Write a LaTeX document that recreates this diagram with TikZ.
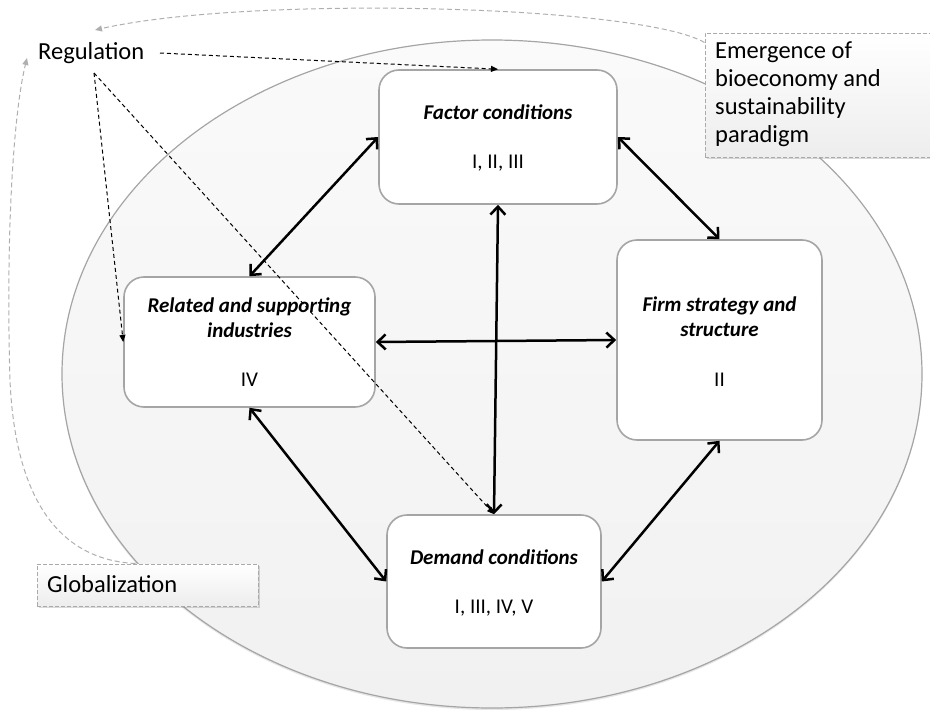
\documentclass[tikz,border=0pt]{standalone}
\usepackage{fontspec}
\setmainfont{Carlito}
\usetikzlibrary{arrows.meta,shadows,shapes.geometric}

\definecolor{rimgray}{RGB}{165,165,165}
\definecolor{fieldtop}{RGB}{250,250,250}
\definecolor{fieldbot}{RGB}{241,241,241}
\definecolor{notegray}{RGB}{170,170,170}
\definecolor{linkgray}{RGB}{175,175,175}

\tikzset{
  field/.style={ellipse, draw=rimgray, line width=1.2pt, top color=fieldtop, bottom color=fieldbot,
    inner sep=0pt, drop shadow={shadow xshift=0pt, shadow yshift=-2pt, opacity=0.2, fill=gray}},
  stagebox/.style={rectangle, rounded corners=20pt, draw=rimgray, line width=1.6pt, fill=white, inner sep=0pt},
  notebox/.style={rectangle, draw=notegray, line width=1pt, dash pattern=on 4pt off 2pt,
    top color=white, bottom color=black!7, inner sep=0pt,
    drop shadow={shadow xshift=1.5pt, shadow yshift=-2pt, opacity=0.3, fill=gray}},
  title/.style={font=\fontsize{21}{25}\selectfont\bfseries\itshape, align=center, inner sep=0pt},
  roman/.style={font=\fontsize{21}{25}\selectfont, inner sep=0pt},
  outer/.style={font=\fontsize{24.5}{28}\selectfont, inner sep=0pt, align=left},
  twoway/.style={line width=2.5pt,
    {Straight Barb[length=8pt,width=15pt,line width=2.5pt]}-{Straight Barb[length=8pt,width=15pt,line width=2.5pt]}},
  influence/.style={line width=1pt, dash pattern=on 4pt off 3pt, -{Triangle[length=7pt,width=6pt]}},
  feedback/.style={draw=linkgray, line width=1pt, dash pattern=on 5pt off 3pt,
    -{Triangle[length=7pt,width=6pt,fill=linkgray]}}
}

\begin{document}
\begin{tikzpicture}[x=1pt,y=-1pt]
\useasboundingbox (0,0) rectangle (930,712);

% the national context
\node[field, minimum width=860pt, minimum height=668pt] (diamond) at (492,374) {};

% external drivers
\node[notebox, minimum width=232pt, minimum height=124pt] (bio) at (821,95) {};
\node[outer, anchor=north west] (biotext) at (715,42) {Emergence of\\bioeconomy and\\sustainability\\paradigm};
\node[notebox, minimum width=221pt, minimum height=42pt] (glob) at (147.5,585) {};
\node[outer, anchor=west] (globtext) at (47,584) {Globalization};
\node[outer, anchor=west] (reg) at (38,53) {Regulation};
\coordinate (regfoot) at (94,73);
\coordinate (regtail) at (160,53);
\coordinate (regtop) at (95,30);
\coordinate (regside) at (27,58);

% feedback from the drivers to regulation
\draw[feedback] ([yshift=-10pt]bio.north west) .. controls (640,5) and (250,-5) .. (regtop);
\draw[feedback] ([xshift=-12pt]glob.north) .. controls (60,560) and (15,500) .. (10,380)
  .. controls (6,250) and (12,120) .. (regside);

% the four determinants
\node[stagebox, minimum width=238pt, minimum height=134pt] (factor) at (498,137) {};
\node[title] at (498,112) {Factor conditions};
\node[roman] at (498,163) {I, II, III};

\node[stagebox, minimum width=251pt, minimum height=130pt] (related) at (249.5,342) {};
\node[title] at (249.5,318) {Related and supporting\\industries};
\node[roman] at (249.5,380) {IV};

\node[stagebox, minimum width=205pt, minimum height=200pt] (firm) at (719.5,340) {};
\node[title] at (719.5,317) {Firm strategy and\\structure};
\node[roman] at (719.5,380) {II};

\node[stagebox, minimum width=214pt, minimum height=133pt] (demand) at (494,581.5) {};
\node[title] at (494,557) {Demand conditions};
\node[roman] at (494,608) {I, III, IV, V};

% mutual reinforcement
\draw[twoway] (factor.west) -- (related.north);
\draw[twoway] (factor.east) -- (firm.north);
\draw[twoway] (factor.south) -- (demand.north);
\draw[twoway] (related.east) -- (firm.west);
\draw[twoway] (related.south) -- (demand.west);
\draw[twoway] (demand.east) -- (firm.south);

% influence of regulation
\draw[influence] (regtail) -- (factor.north);
\draw[influence] (regfoot) -- (related.west);
\draw[influence] (regfoot) -- (demand.north);
\end{tikzpicture}
\end{document}
